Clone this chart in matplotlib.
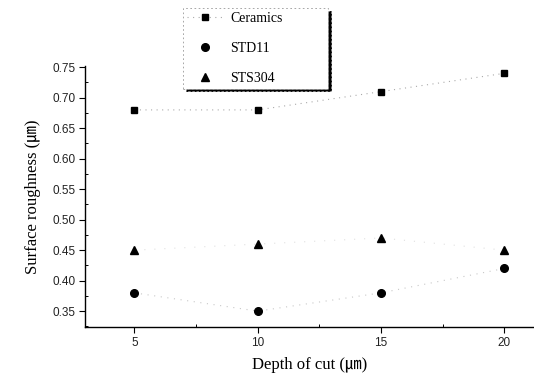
import matplotlib
matplotlib.use("Agg")
import matplotlib.pyplot as plt
from matplotlib.ticker import MultipleLocator, FormatStrFormatter

depth = [5, 10, 15, 20]
ceramics = [0.68, 0.68, 0.71, 0.74]
std11 = [0.38, 0.35, 0.38, 0.42]
sts304 = [0.45, 0.46, 0.47, 0.45]
series_names = ["Ceramics", "STD11", "STS304"]
x_label = "Depth of cut (㎛)"
y_label = "Surface roughness (㎛)"

fig = plt.figure(figsize=(5.34, 3.78), dpi=100)
ax = fig.add_axes([85/534, 1-327/378, 1-85/534, (327-66)/378])

lab_font = ['Liberation Serif', 'Noto Sans CJK KR', 'DejaVu Sans']
tick_font = 'Liberation Sans'

h1, = ax.plot(depth, ceramics, color='#aaaaaa', marker='s', markersize=5,
              markerfacecolor='black', markeredgecolor='black',
              linestyle=(0, (1, 4)), linewidth=0.8, label=series_names[0])
ax.plot(depth, std11, color='#c8c8c8', linestyle=(0, (1, 5)), linewidth=0.8)
h2, = ax.plot(depth, std11, color='black', marker='o', markersize=5.5,
              linestyle='none', label=series_names[1])
ax.plot(depth, sts304, color='#e0e0e0', linestyle=(0, (1, 8)), linewidth=0.8)
h3, = ax.plot(depth, sts304, color='black', marker='^', markersize=6,
              linestyle='none', label=series_names[2])

ax.set_xlim(3.0, 21.2)
ax.set_ylim(0.324, 0.752)
ax.xaxis.set_major_locator(MultipleLocator(5))
ax.xaxis.set_minor_locator(MultipleLocator(2.5))
ax.yaxis.set_major_locator(MultipleLocator(0.05))
ax.yaxis.set_minor_locator(MultipleLocator(0.025))
ax.yaxis.set_major_formatter(FormatStrFormatter('%.2f'))

for s in ['top', 'right']:
    ax.spines[s].set_visible(False)
for s in ['left', 'bottom']:
    ax.spines[s].set_linewidth(1.0)

ax.tick_params(axis='both', which='major', direction='out', length=4, width=0.8,
               labelsize=8.5, pad=3)
ax.tick_params(axis='both', which='minor', direction='in', length=2.5, width=0.7)
for t in ax.get_xticklabels() + ax.get_yticklabels():
    t.set_fontfamily(tick_font)
    t.set_color('#222222')

ax.set_xlabel(x_label, family=lab_font, fontsize=12, labelpad=6)
ax.set_ylabel(y_label, family=lab_font, fontsize=12, labelpad=8)

leg = fig.legend(handles=[h1, h2, h3], loc='upper left',
                 bbox_to_anchor=(183/534, 1-90/378, (328-183)/534, 82/378),
                 bbox_transform=fig.transFigure, mode='expand',
                 prop={'family': 'Liberation Serif', 'size': 10},
                 frameon=True, fancybox=False, labelspacing=1.2,
                 borderpad=0.3, handlelength=2.6, handletextpad=0.5,
                 borderaxespad=0, shadow={'color': 'black', 'alpha': 1.0})
fr = leg.get_frame()
fr.set_edgecolor('#999999')
fr.set_linestyle((0, (2, 3)))
fr.set_linewidth(0.6)
fr.set_facecolor('white')

fig.savefig('out.png', dpi=100)
